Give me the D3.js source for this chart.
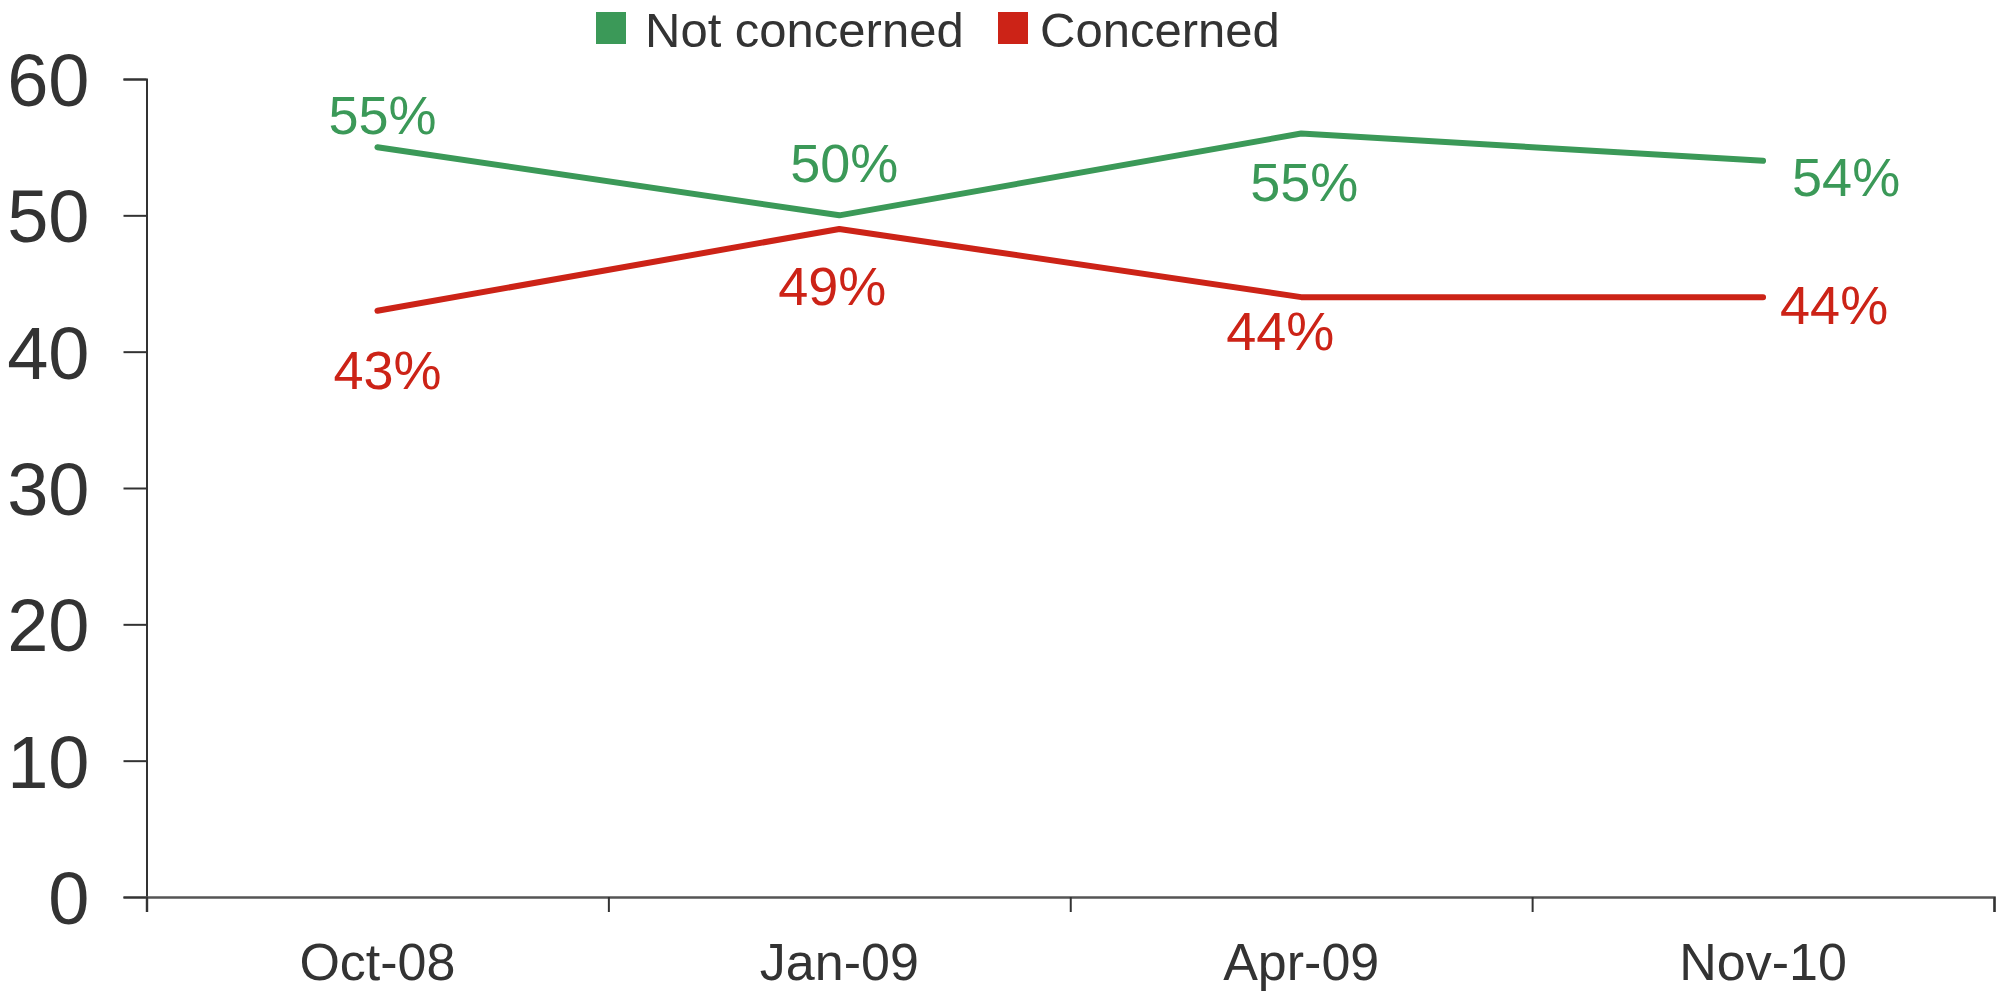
<!DOCTYPE html>
<html>
<head>
<meta charset="utf-8">
<script src="https://cdn.jsdelivr.net/npm/d3@7"></script>
<style>
  html, body { margin: 0; padding: 0; background: #fff; }
  svg { display: block; font-family: "Liberation Sans", Arial, Helvetica, sans-serif; }
</style>
</head>
<body>
<svg id="chart" width="1998" height="991"></svg>
<script>
// ---- data ----
const categories = ["Oct-08", "Jan-09", "Apr-09", "Nov-10"];
const notConcerned = [55, 50, 56, 54];
const concerned = [43, 49, 44, 44];
const notConcernedLabels = ["55%", "50%", "55%", "54%"];
const concernedLabels = ["43%", "49%", "44%", "44%"];
const yTicks = [0, 10, 20, 30, 40, 50, 60];
const seriesNames = ["Not concerned", "Concerned"];

// ---- layout / style ----
const colors = { "Not concerned": "#3b9958", "Concerned": "#cc2317" };
const textColor = "#333333";
const plot = { left: 146.5, right: 1994, top: 79, bottom: 897 };
// label placement relative to each point: [dx, dy, anchor]
const placeNot = [[5, -13, "middle"], [5, -33, "middle"], [3, 67, "middle"], [29, 35, "start"]];
const placeCon = [[10, 78, "middle"], [-7, 76, "middle"], [-21, 53, "middle"], [17, 27, "start"]];

const svg = d3.select("#chart");

const x = d3.scaleBand().domain(categories).range([plot.left, plot.right]).paddingInner(0).paddingOuter(0);
const xEdges = d3.scaleLinear().domain([0, categories.length]).range([plot.left, plot.right]);
const y = d3.scaleLinear().domain([0, 60]).range([plot.bottom, plot.top]);
const cx = c => x(c) + x.bandwidth() / 2;

// y axis
const yAxis = svg.append("g")
  .attr("transform", `translate(${plot.left},0)`)
  .call(d3.axisLeft(y).tickValues(yTicks).tickSize(23).tickPadding(34).tickFormat(d3.format("d")));
yAxis.select(".domain").attr("stroke", "#333").attr("stroke-width", 2);
yAxis.selectAll(".tick line").attr("stroke", "#333").attr("stroke-width", 2);
yAxis.selectAll(".tick text")
  .attr("fill", textColor)
  .style("font-size", "74px")
  .attr("dy", "0.36em");

// x axis (boundary ticks)
const xAxis = svg.append("g")
  .attr("transform", `translate(0,${plot.bottom})`)
  .call(d3.axisBottom(xEdges).tickValues(d3.range(categories.length + 1)).tickSize(15).tickFormat(""));
xAxis.select(".domain").attr("stroke", "#555").attr("stroke-width", 2.5);
xAxis.selectAll(".tick line").attr("stroke", "#333").attr("stroke-width", 2);

// x labels
const xLab = svg.append("g")
  .attr("transform", `translate(0,${plot.bottom})`)
  .call(d3.axisBottom(x).tickSize(0).tickPadding(0));
xLab.select(".domain").remove();
xLab.selectAll(".tick text")
  .attr("fill", textColor)
  .style("font-size", "52px")
  .attr("y", 83)
  .attr("dy", 0);

// lines
const line = d3.line().x((d, i) => cx(categories[i])).y(d => y(d));
const seriesData = [
  { name: "Not concerned", values: notConcerned, labels: notConcernedLabels, place: placeNot },
  { name: "Concerned", values: concerned, labels: concernedLabels, place: placeCon }
];

seriesData.forEach(s => {
  svg.append("path")
    .datum(s.values)
    .attr("d", line)
    .attr("fill", "none")
    .attr("stroke", colors[s.name])
    .attr("stroke-width", 6)
    .attr("stroke-linecap", "round")
    .attr("stroke-linejoin", "round");

  svg.append("g").selectAll("text")
    .data(s.values)
    .join("text")
    .attr("x", (d, i) => cx(categories[i]) + s.place[i][0])
    .attr("y", (d, i) => y(d) + s.place[i][1])
    .attr("text-anchor", (d, i) => s.place[i][2])
    .attr("fill", colors[s.name])
    .style("font-size", "54px")
    .text((d, i) => s.labels[i]);
});

// legend
const legendPos = [{ sx: 596, tx: 645 }, { sx: 998, tx: 1040 }];
const legend = svg.append("g");
seriesNames.forEach((n, i) => {
  legend.append("rect")
    .attr("x", legendPos[i].sx).attr("y", 12)
    .attr("width", 30).attr("height", 32)
    .attr("fill", colors[n]);
  legend.append("text")
    .attr("x", legendPos[i].tx).attr("y", 47)
    .attr("fill", textColor)
    .style("font-size", "49px")
    .text(n);
});
</script>
</body>
</html>
